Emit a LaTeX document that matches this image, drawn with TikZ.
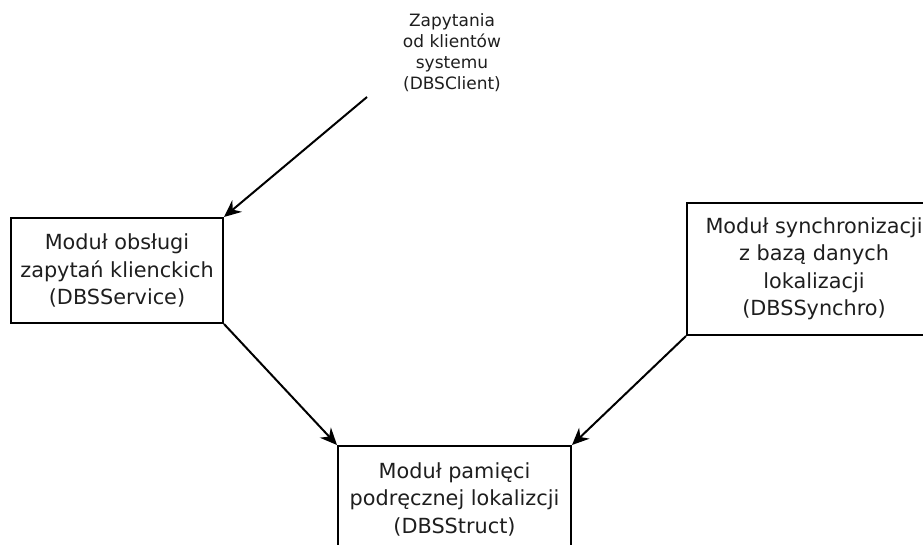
\documentclass[tikz,border=0pt]{standalone}
\usepackage{fontspec}
\setmainfont{DejaVu Sans}
\usetikzlibrary{arrows.meta}
\definecolor{ink}{HTML}{1E1E1E}
\begin{document}
\begin{tikzpicture}[x=1pt,y=-1pt,
  modbox/.style={draw=black,line width=2pt,text=ink,align=center,
    font=\fontsize{20.8}{27.5}\selectfont,inner sep=0pt},
  flow/.style={line width=2pt,-{Stealth[length=17pt,width=15pt]}}]
  \useasboundingbox (0,0) rectangle (923,544);
  \clip (0,0) rectangle (923,544);
  % incoming requests
  \node[text=ink,align=center,font=\fontsize{17}{21}\selectfont] (req) at (452,53)
    {Zapytania\\od klientów\\systemu\\(DBSClient)};
  \coordinate (reqend) at (367,97);
  % modules
  \node[modbox,minimum width=212pt,minimum height=105pt] (svc) at (117,270.5)
    {Moduł obsługi\\zapytań klienckich\\(DBSService)};
  \node[modbox,minimum width=254pt,minimum height=132pt] (sync) at (814,269)
    {Moduł synchronizacji\\z bazą danych\\lokalizacji\\(DBSSynchro)};
  \node[modbox,minimum width=233pt,minimum height=106pt] (cache) at (454.5,499)
    {Moduł pamięci\\podręcznej lokalizcji\\(DBSStruct)};
  % connectors
  \draw[flow] (reqend) -- (svc.north east);
  \draw[flow] (svc.south east) -- (cache.north west);
  \draw[flow] (sync.south west) -- (cache.north east);
\end{tikzpicture}
\end{document}
